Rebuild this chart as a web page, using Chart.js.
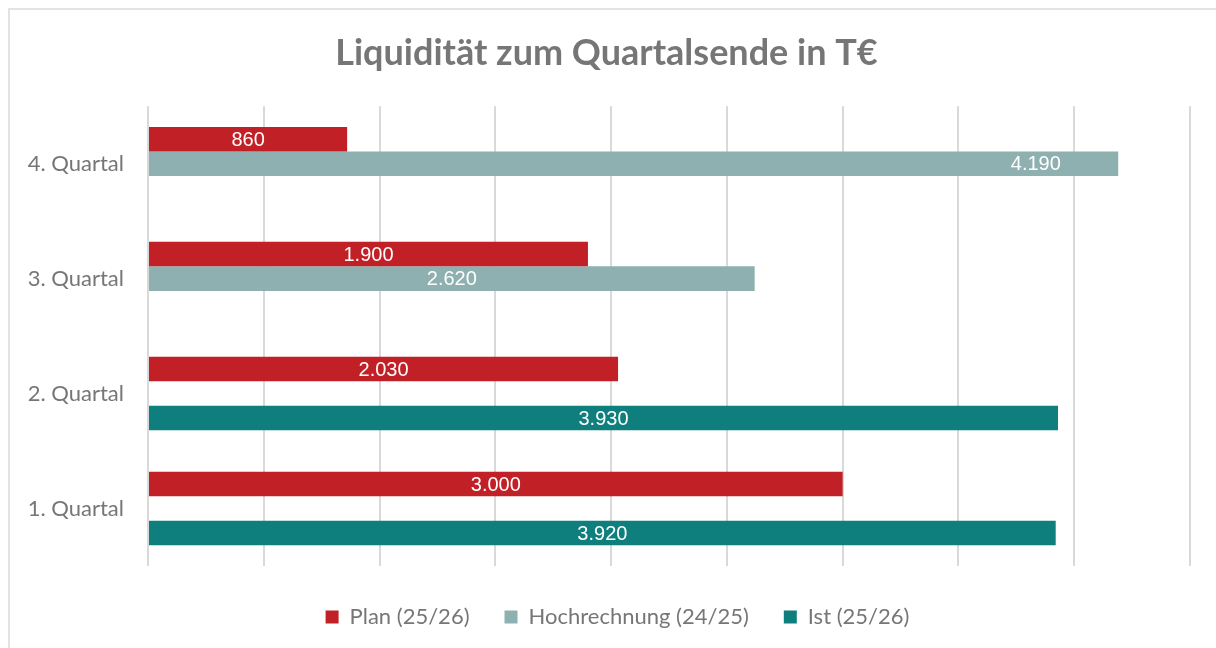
<!DOCTYPE html>
<html>
<head>
<meta charset="utf-8">
<script src="https://cdn.jsdelivr.net/npm/chart.js@4.4.1/dist/chart.umd.min.js"></script>
<style>
  html, body { margin: 0; padding: 0; background: #fff; }
  #wrap { width: 1216px; height: 648px; position: relative; }
</style>
</head>
<body>
<div id="wrap"><canvas id="chart"></canvas></div>
<script>
// --- Data (top row first, like the picture) ---
const categories = ['4. Quartal', '3. Quartal', '2. Quartal', '1. Quartal'];
const planValues = [860, 1900, 2030, 3000];
const hochrechnungValues = [4190, 2620, null, null];
const istValues = [null, null, 3930, 3920];
const seriesNames = ['Plan (25/26)', 'Hochrechnung (24/25)', 'Ist (25/26)'];
// where the value label sits along its bar (0 = start, 1 = end); the 4.190 label was moved right in the original
const labelPos = [[0.5, 0.5, 0.5, 0.5], [0.915, 0.5, 0.5, 0.5], [0.5, 0.5, 0.5, 0.5]];

const grey = '#767676';
const fontFamily = 'Lato, "Open Sans", sans-serif';

// German number format: 3000 -> 3.000
const fmt = v => v.toString().replace(/\B(?=(\d{3})+(?!\d))/g, '.');

// white value labels inside each bar
const barLabels = {
    id: 'barLabels',
    afterDatasetsDraw(chart) {
        const ctx = chart.ctx;
        ctx.save();
        ctx.fillStyle = '#ffffff';
        ctx.font = '20px "Liberation Sans", Arial, sans-serif';
        ctx.textAlign = 'center';
        ctx.textBaseline = 'middle';
        chart.data.datasets.forEach((ds, i) => {
            chart.getDatasetMeta(i).data.forEach((bar, j) => {
                const v = ds.data[j];
                if (v == null) return;
                const f = labelPos[i][j];
                ctx.fillText(fmt(v), bar.base + (bar.x - bar.base) * f, bar.y + 1);
            });
        });
        ctx.restore();
    }
};

// thin frame round the chart (Excel chart area border)
const frame = {
    id: 'frame',
    beforeDraw(chart) {
        const ctx = chart.ctx;
        ctx.save();
        ctx.strokeStyle = '#e3e3e3';
        ctx.lineWidth = 2;
        ctx.beginPath();
        ctx.moveTo(9, 660);
        ctx.lineTo(9, 9);
        ctx.lineTo(1230, 9);
        ctx.stroke();
        ctx.restore();
    }
};

// legend sits a little right of the title in the original
const legendShift = {
    id: 'legendShift',
    afterLayout(chart) {
        chart.legend.left += 11;
        chart.legend.right += 11;
    }
};

new Chart(document.getElementById('chart'), {
    type: 'bar',
    data: {
        labels: categories,
        datasets: [
            { label: seriesNames[0], data: planValues, backgroundColor: '#C02026' },
            { label: seriesNames[1], data: hochrechnungValues, backgroundColor: '#8FB0B0' },
            { label: seriesNames[2], data: istValues, backgroundColor: '#0F7F7D' }
        ]
    },
    options: {
        indexAxis: 'y',
        responsive: true,
        maintainAspectRatio: false,
        animation: false,
        categoryPercentage: 0.64,
        barPercentage: 1,
        layout: { padding: { left: 23, right: 26, top: 0, bottom: 10 } },
        plugins: {
            title: {
                display: true,
                text: 'Liquidität zum Quartalsende in T€',
                color: grey,
                font: { family: fontFamily, size: 36, weight: 'bold', lineHeight: 1.2 },
                padding: { top: 32, bottom: 31 }
            },
            legend: {
                position: 'bottom',
                labels: {
                    color: grey,
                    font: { family: fontFamily, size: 22 },
                    boxWidth: 13,
                    boxHeight: 13,
                    padding: 35
                }
            },
            tooltip: { enabled: false }
        },
        scales: {
            x: {
                min: 0,
                max: 4500,
                ticks: { display: false, stepSize: 500 },
                grid: { color: '#d9d9d9', lineWidth: 2, drawTicks: false },
                border: { display: false },
                afterFit(scale) { scale.height = 5; }
            },
            y: {
                ticks: { color: grey, font: { family: fontFamily, size: 22 }, padding: 24 },
                grid: { display: false, drawTicks: false },
                border: { display: false },
                afterFit(scale) { scale.width = 125; }
            }
        }
    },
    plugins: [frame, barLabels, legendShift]
});
</script>
</body>
</html>
